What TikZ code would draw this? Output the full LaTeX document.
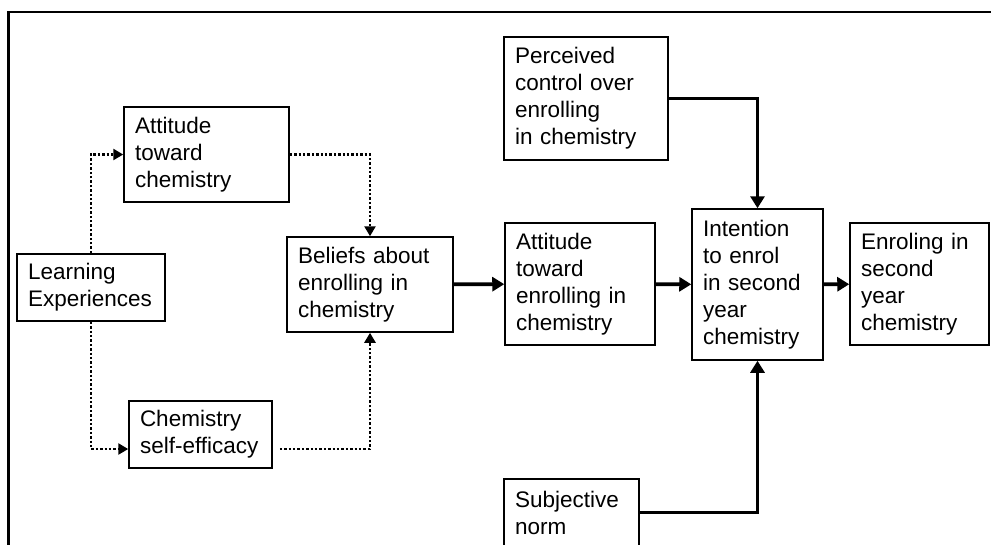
\documentclass[tikz,border=0pt]{standalone}
\usepackage{fontspec}
\setmainfont{Liberation Sans}
\usetikzlibrary{arrows.meta}

\begin{document}
\begin{tikzpicture}[x=1pt,y=-1pt,
                    stage/.style 2 args={draw, line width=1.5pt, text width=#1, minimum height=#2,
                                         inner xsep=11pt, inner ysep=0pt, align=left,
                                         font=\fontsize{22.5}{27}\selectfont},
                    dotlink/.style={line width=2.6pt, dash pattern=on 2.4pt off 2pt,
                                    -{Triangle[length=10pt,width=11pt]}},
                    solidlink/.style={line width=3.8pt, -{Triangle[length=12pt,width=14pt]}}]
  \useasboundingbox (0,0) rectangle (991,544);
  % frame
  \draw[line width=2.4pt] (8.5,550) -- (8.5,12) -- (995,12);

  \node (AttitudeChem) [stage={143}{95}] at (206.5,154.5) {Attitude\\toward\\chemistry};
  \node (LearningExp) [stage={126}{67}] at (91,287.5) {Learning\\Experiences};
  \node (SelfEfficacy) [stage={121}{67}] at (200.5,434.5) {Chemistry\\self-efficacy};
  \node (Beliefs) [stage={144}{95}] at (370,284.5) {Beliefs about\\enrolling in\\chemistry};
  \node (AttitudeEnrol) [stage={128}{122}] at (580,284) {Attitude\\toward\\enrolling in\\chemistry};
  \node (Intention) [stage={109}{151}] at (757.5,284.5) {Intention\\to enrol\\in second\\year\\chemistry};
  \node (Enroling) [stage={117}{122}] at (919.5,284) {Enroling in\\second\\year\\chemistry};
  \node (Control) [stage={142}{123}] at (586,98.5) {Perceived\\control over\\enrolling\\in chemistry};
  \node (Norm) [stage={113}{67}] at (571.5,512.5) {Subjective\\norm};

  % dotted paths
  \draw[dotlink] (LearningExp.north) |- (AttitudeChem.west);
  \draw[dotlink] (LearningExp.south) |- ([yshift=-14.5pt]SelfEfficacy.west);
  \draw[dotlink] (AttitudeChem.east) -| (Beliefs.north);
  \draw[dotlink] ([yshift=-14.5pt,xshift=7pt]SelfEfficacy.east) -| (Beliefs.south);

  % solid paths
  \draw[solidlink] (Beliefs) -- (AttitudeEnrol);
  \draw[solidlink] (AttitudeEnrol) -- (Intention);
  \draw[solidlink] (Intention) -- (Enroling);
  \draw[solidlink] (Control.east) -| (Intention.north);
  \draw[solidlink] (Norm.east) -| (Intention.south);
\end{tikzpicture}
\end{document}
